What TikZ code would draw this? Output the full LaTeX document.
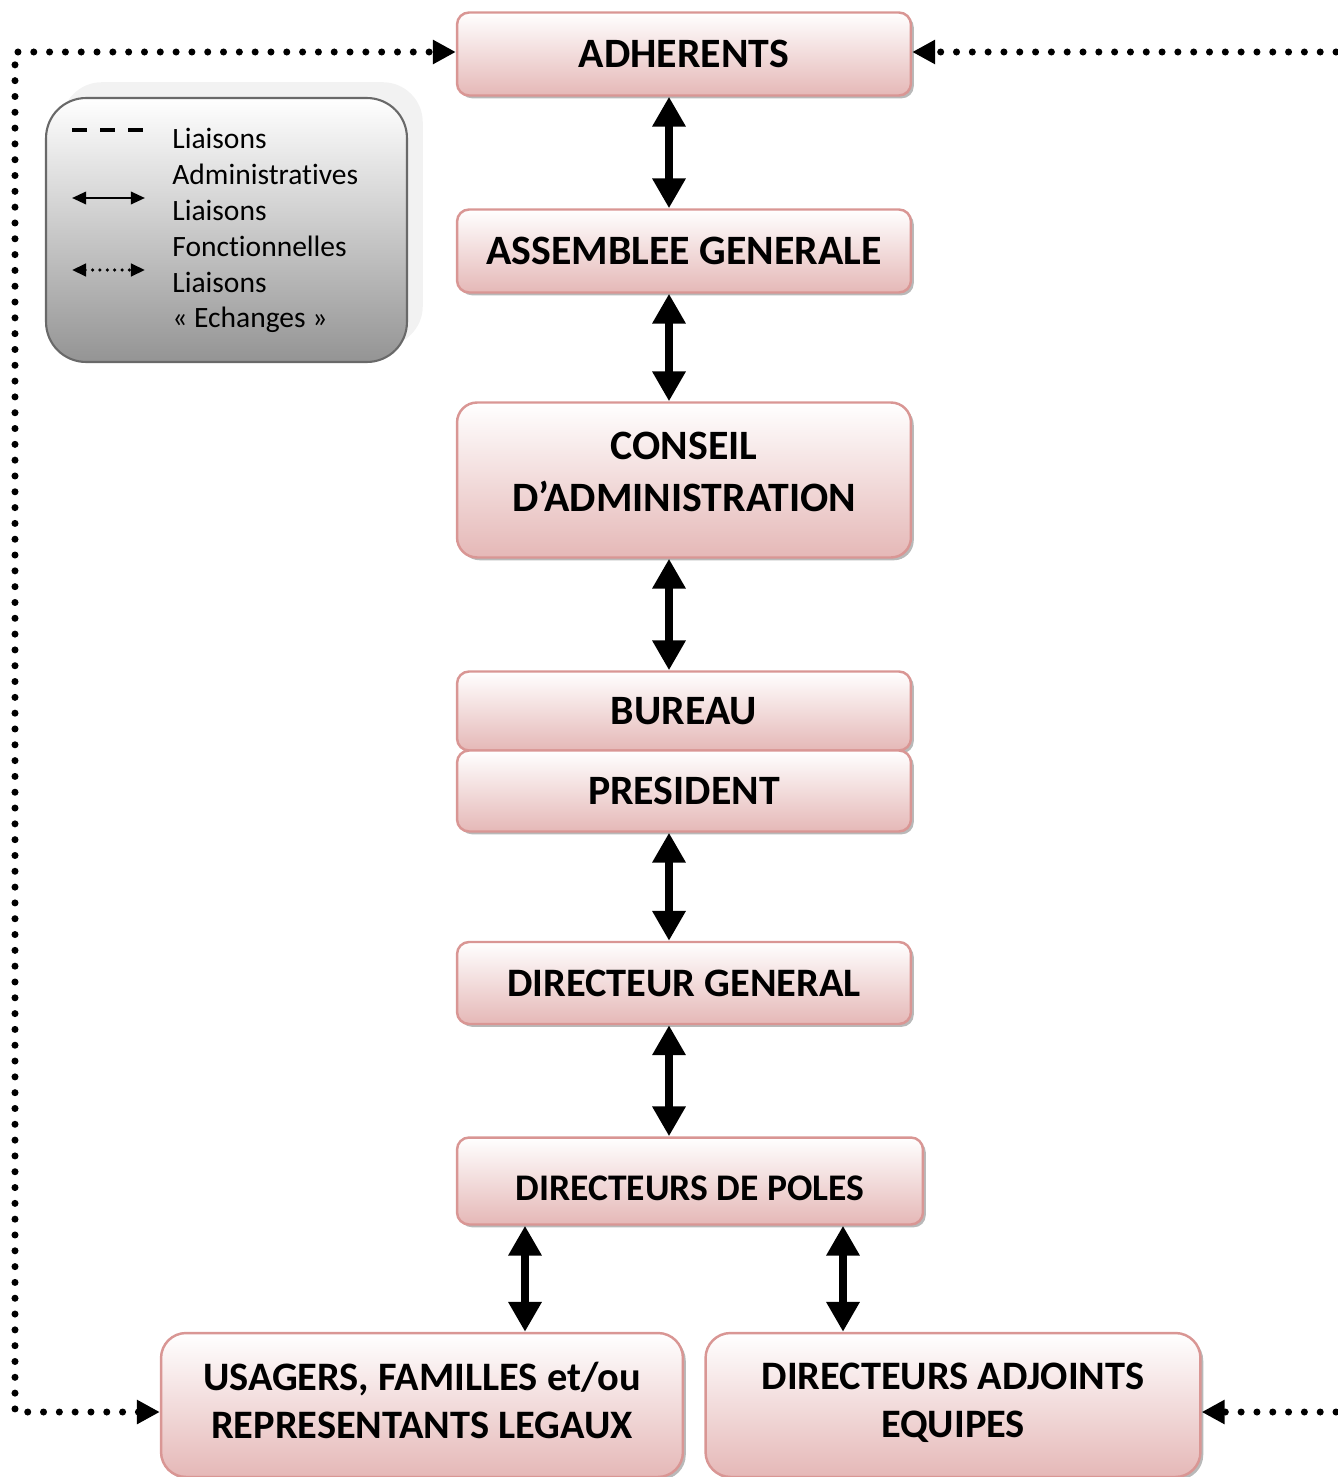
\documentclass[tikz,border=0pt]{standalone}
\usepackage{fontspec}
\setmainfont{Carlito}[Ligatures={NoCommon}]
\usetikzlibrary{positioning,arrows.meta,shadows}

\definecolor{boxpink}{RGB}{229,184,183}
\definecolor{boxedge}{RGB}{217,150,148}
\definecolor{legendgray}{RGB}{148,148,148}
\definecolor{legendedge}{RGB}{105,105,105}

\begin{document}
\begin{tikzpicture}[x=0.02cm, y=-0.02cm,
	box/.style={draw=boxedge, line width=1.4pt, rounded corners=0.24cm, top color=white, bottom color=boxpink,
		align=center, inner sep=0pt, minimum width=9.08cm, font=\bfseries\fontsize{23.8}{29.5}\selectfont,
		drop shadow={shadow xshift=1.6pt, shadow yshift=-1.6pt, fill=black!55, opacity=.5}},
	link/.style={<->, >={Triangle[width=18pt,length=17pt]}, line width=4.5pt},
	echange/.style={line width=4pt, line cap=round, dash pattern=on 0pt off 9pt, >={Triangle[width=13pt,length=13pt]}}]
	\useasboundingbox (0,0) rectangle (1338,1477);

	% legend
	\node[draw=legendedge, line width=1.2pt, rounded corners=0.8cm, top color=white, bottom color=legendgray,
		minimum width=7.22cm, minimum height=5.28cm,
		drop shadow={shadow xshift=9pt, shadow yshift=9pt, fill=black!5, opacity=1}] (legend) at (226.5,230) {};
	\node[anchor=north west, align=left, inner sep=0pt, font=\fontsize{16.8}{20.4}\selectfont] (legtext) at (172,128)
		{Liaisons\\Administratives\\Liaisons\\Fonctionnelles\\Liaisons\\« Echanges »};
	\coordinate (dashL) at (72,130);
	\coordinate (dashR) at (145,130);
	\coordinate (fullL) at (72,198);
	\coordinate (fullR) at (145,198);
	\coordinate (dotL) at (72,270);
	\coordinate (dotR) at (145,270);
	\draw[line width=1.8pt, dash pattern=on 8.5pt off 7.5pt] (dashL) -- (dashR);
	\draw[line width=1.4pt, {Triangle[width=7pt,length=8pt]}-{Triangle[width=7pt,length=8pt]}] (fullL) -- (fullR);
	\draw[line width=2pt, line cap=round, dash pattern=on 0pt off 4.2pt, {Triangle[width=7pt,length=8pt]}-{Triangle[width=7pt,length=8pt]}] (dotL) -- (dotR);

	% boxes
	\node[box, minimum height=1.66cm] (adh) at (684,54) {ADHERENTS};
	\node[box, minimum height=1.66cm] (ag) at (684,251) {ASSEMBLEE GENERALE};
	\node[box, minimum height=3.10cm, rounded corners=0.4cm, text depth=9pt] (ca) at (684,480) {CONSEIL\\D’ADMINISTRATION};
	\node[box, minimum height=1.58cm] (bureau) at (684,711) {BUREAU};
	\node[box, minimum height=1.62cm] (pres) at (684,791) {PRESIDENT};
	\node[box, minimum height=1.64cm, font=\bfseries\fontsize{23}{28}\selectfont] (dg) at (684,983) {DIRECTEUR GENERAL};
	\node[box, minimum height=1.74cm, minimum width=9.32cm, text height=22pt, font=\bfseries\fontsize{21.4}{26}\selectfont] (poles) at (690,1181) {DIRECTEURS DE POLES};
	\node[box, minimum height=2.88cm, minimum width=10.44cm, rounded corners=0.5cm, text depth=5.6pt, font=\bfseries\fontsize{23}{27.2}\selectfont] (usagers) at (422,1405) {USAGERS, FAMILLES et/ou\\REPRESENTANTS LEGAUX};
	\node[box, minimum height=2.88cm, minimum width=9.90cm, rounded corners=0.5cm, text depth=5.6pt, font=\bfseries\fontsize{23}{27.2}\selectfont] (adjoints) at (953,1405) {DIRECTEURS ADJOINTS\\EQUIPES};

	% functional links
	\coordinate (axis) at (669,0);
	\coordinate (axisL) at (525,0);
	\coordinate (axisR) at (843,0);
	\draw[link] (adh.south -| axis) -- (ag.north -| axis);
	\draw[link] (ag.south -| axis) -- (ca.north -| axis);
	\draw[link] (ca.south -| axis) -- (bureau.north -| axis);
	\draw[link] (pres.south -| axis) -- (dg.north -| axis);
	\draw[link] (dg.south -| axis) -- (poles.north -| axis);
	\draw[link] (poles.south -| axisL) -- (usagers.north -| axisL);
	\draw[link] (poles.south -| axisR) -- (adjoints.north -| axisR);

	% exchanges
	\coordinate (cornerTL) at (15,52);
	\coordinate (cornerBL) at (15,1412);
	\coordinate (edgeTR) at (1336,52);
	\coordinate (edgeBR) at (1336,1412);
	\draw[echange, <->] (usagers.west |- cornerBL) -- (cornerBL) -- (cornerTL) -- (adh.west |- cornerTL);
	\draw[echange, ->] (edgeTR) -- (adh.east |- edgeTR);
	\draw[echange, ->] (edgeBR) -- (adjoints.east |- edgeBR);
\end{tikzpicture}
\end{document}
